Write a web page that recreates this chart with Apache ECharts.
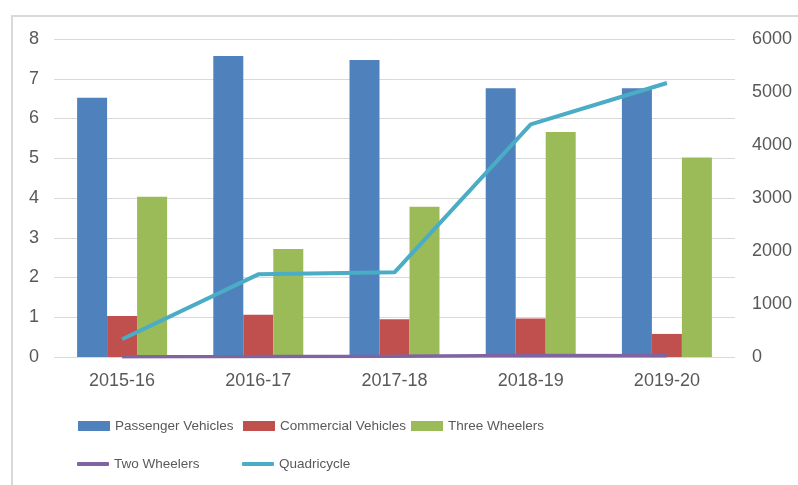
<!DOCTYPE html>
<html>
<head>
<meta charset="utf-8">
<script src="https://cdn.jsdelivr.net/npm/echarts@6/dist/echarts.min.js"></script>
<style>
  html, body { margin: 0; padding: 0; background: #fff; }
  .frame { position: absolute; left: 11px; top: 15px; width: 800px; height: 480px;
           border-left: 2px solid #d9d9d9; border-top: 2px solid #d9d9d9; }
  #chart { position: absolute; left: 0; top: 0; width: 798px; height: 485px; }
</style>
</head>
<body>
<div class="frame"></div>
<div id="chart"></div>
<script>
// data
const years = ['2015-16', '2016-17', '2017-18', '2018-19', '2019-20']
const passenger = [6.52, 7.57, 7.47, 6.76, 6.76]
const commercial = [1.03, 1.06, 0.95, 0.97, 0.58]
const threeWheelers = [4.03, 2.72, 3.78, 5.66, 5.02]
const twoWheelers = [5, 8, 15, 30, 25]
const quadricycle = [334, 1560, 1598, 4390, 5170]

const font = "'Liberation Sans', sans-serif"
const txt = '#595959'

const chart = echarts.init(document.getElementById('chart'))

// one legend per item so each sits where the original put it
const legendItem = (name, left, top, isLine) => ({
    data: [name],
    left: left,
    top: top,
    padding: 0,
    itemWidth: 32,
    itemHeight: isLine ? 4 : 10,
    itemGap: 0,
    icon: isLine ? 'roundRect' : 'rect',
    textStyle: { color: txt, fontSize: 13.5, fontFamily: font }
})

const option = {
    animation: false,
    grid: { left: 54, right: 63, top: 39, bottom: 128 },
    legend: [
        legendItem('Passenger Vehicles', 78, 419, false),
        legendItem('Commercial Vehicles', 243, 419, false),
        legendItem('Three Wheelers', 411, 419, false),
        legendItem('Two Wheelers', 77, 457, true),
        legendItem('Quadricycle', 242, 457, true)
    ],
    xAxis: {
        type: 'category',
        data: years,
        axisTick: { show: false },
        axisLine: { show: false },
        axisLabel: { color: txt, fontSize: 18, fontFamily: font, margin: 15 }
    },
    yAxis: [
        {
            type: 'value',
            min: 0, max: 8, interval: 1,
            axisLabel: { color: txt, fontSize: 18, fontFamily: font, margin: 15 },
            splitLine: { lineStyle: { color: '#d9d9d9', width: 1 } }
        },
        {
            type: 'value',
            min: 0, max: 6000, interval: 1000,
            position: 'right',
            axisLabel: { color: txt, fontSize: 18, fontFamily: font, margin: 17,
                         formatter: v => String(v) },
            splitLine: { show: false }
        }
    ],
    series: [
        { name: 'Passenger Vehicles', type: 'bar', data: passenger, barWidth: 30, barGap: '0%',
          itemStyle: { color: '#4F81BD' } },
        { name: 'Commercial Vehicles', type: 'bar', data: commercial, barWidth: 30, barGap: '0%',
          itemStyle: { color: '#C0504D' } },
        { name: 'Three Wheelers', type: 'bar', data: threeWheelers, barWidth: 30, barGap: '0%',
          itemStyle: { color: '#9BBB59' } },
        { name: 'Two Wheelers', type: 'line', yAxisIndex: 1, data: twoWheelers, symbol: 'none',
          lineStyle: { color: '#8064A2', width: 3.5 }, itemStyle: { color: '#8064A2' } },
        { name: 'Quadricycle', type: 'line', yAxisIndex: 1, data: quadricycle, symbol: 'none',
          lineStyle: { color: '#4BACC6', width: 4 }, itemStyle: { color: '#4BACC6' } }
    ]
}
chart.setOption(option)
</script>
</body>
</html>
